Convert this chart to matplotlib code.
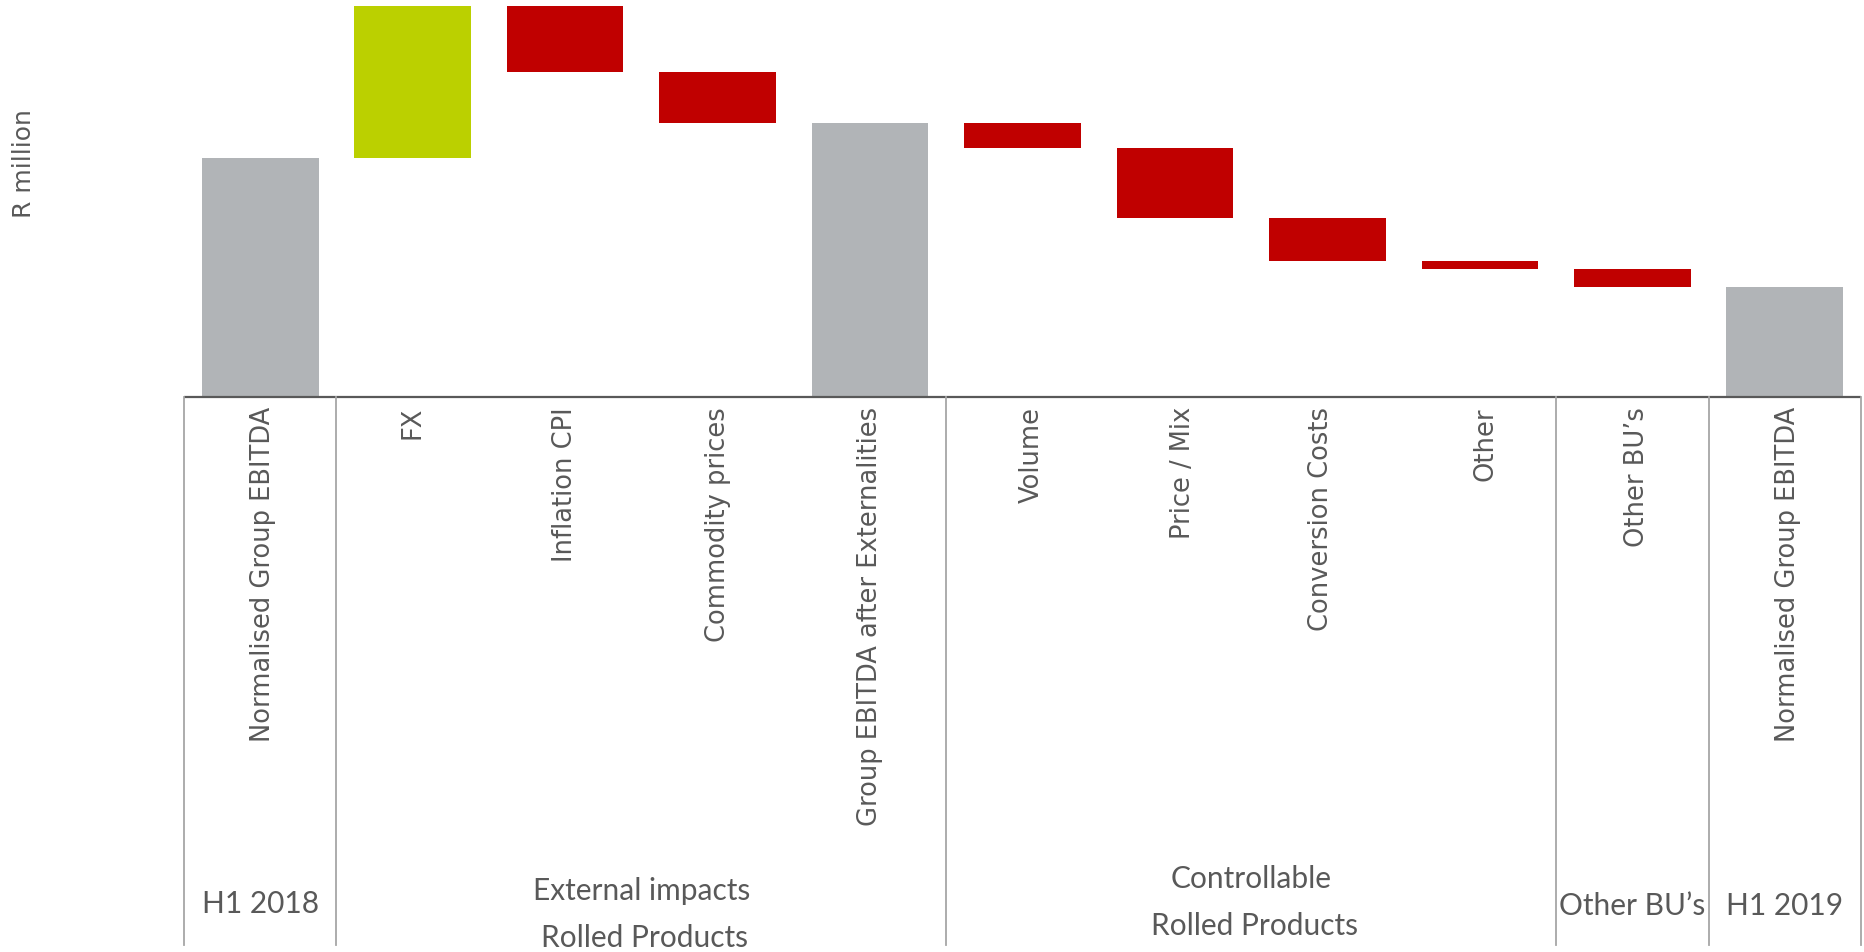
import matplotlib
matplotlib.use("Agg")
import matplotlib.pyplot as plt
import matplotlib.transforms as mtransforms
import numpy as np

# ---- data (R million) ----
categories = ["Normalised Group EBITDA", "FX", "Inflation CPI", "Commodity prices",
              "Group EBITDA after Externalities", "Volume", "Price / Mix",
              "Conversion Costs", "Other", "Other BU\u2019s", "Normalised Group EBITDA"]
values = [239, 152, -66, -51, 274, -25, -70, -43, -8, -18, 110]
is_total = [True, False, False, False, True, False, False, False, False, False, True]

group_names = ["H1 2018", "External impacts\n\nRolled Products", "Controllable\n\nRolled Products",
               "Other BU\u2019s", "H1 2019"]
group_first = [0, 1, 5, 9, 10]
group_last = [0, 4, 8, 9, 10]

# ---- colours ----
c_total = "#B1B4B7"
c_up = "#BBD000"
c_down = "#C00000"
c_text = "#595959"

W, H = 1865, 953
fig = plt.figure(figsize=(W / 100, H / 100), dpi=100)
base_px = 397.5
left_px, right_px = 184, 1861
ax = fig.add_axes([left_px / W, 1 - base_px / H, (right_px - left_px) / W, base_px / H])

# waterfall geometry
bottoms, heights, colors = [], [], []
running = 0
for v, t in zip(values, is_total):
    if t:
        bottoms.append(0)
        heights.append(v)
        colors.append(c_total)
        running = v
    else:
        if v >= 0:
            bottoms.append(running)
            heights.append(v)
            colors.append(c_up)
        else:
            bottoms.append(running + v)
            heights.append(-v)
            colors.append(c_down)
        running += v

x = np.arange(len(categories))
ax.bar(x, heights, bottom=bottoms, width=0.765, color=colors, linewidth=0, zorder=2)
ax.set_xlim(-0.5, len(categories) - 0.5)
ax.set_ylim(0, base_px)
ax.axis("off")

# baseline
ax.plot([-0.5, len(categories) - 0.5], [0, 0], color="#595959", lw=1.6,
        clip_on=False, zorder=3, solid_capstyle="butt")

# category labels (rotated)
label_top = 1 - 407 / H
nudge = [0.02, 0.0, 0.0, 0.0, 0.0, 0.06, 0.055, -0.04, 0.04, 0.03, 0.02]
trans = mtransforms.blended_transform_factory(ax.transData, fig.transFigure)
for i, lab in enumerate(categories):
    ax.text(i + nudge[i], label_top, lab, rotation=90, ha="center", va="top",
            fontsize=18.5, color=c_text, transform=trans, family="DejaVu Sans")

# group separators
bottom_line = 1 - 946 / H
bounds = sorted(set([f - 0.5 for f in group_first] + [l + 0.5 for l in group_last]))
for b in bounds:
    ax.plot([b, b], [1 - base_px / H, bottom_line], color="#A6A6A6", lw=1.3,
            transform=trans, clip_on=False, zorder=3)

# group labels
gfont = ["Lato", "DejaVu Sans"]
gsize = 21.5
group_y = [904, 891, 879, 906, 906]
for name, f, l, gy in zip(group_names, group_first, group_last, group_y):
    if "\n" in name:
        top, _, bot = name.split("\n")
        ax.text((f + l) / 2, 1 - gy / H, top, ha="center", va="center", fontsize=gsize,
                color=c_text, transform=trans, family=gfont)
        ax.text((f + l) / 2 + 0.02, 1 - (gy + 47) / H, bot, ha="center", va="center",
                fontsize=gsize, color=c_text, transform=trans, family=gfont)
    else:
        ax.text((f + l) / 2, 1 - gy / H, name, ha="center", va="center", fontsize=gsize,
                color=c_text, transform=trans, family=gfont)

# y label
fig.text(24 / W, 1 - 164 / H, "R million", rotation=90, ha="center", va="center",
         fontsize=18, color=c_text, family="DejaVu Sans")

fig.savefig("out.png", dpi=100, facecolor="white")
